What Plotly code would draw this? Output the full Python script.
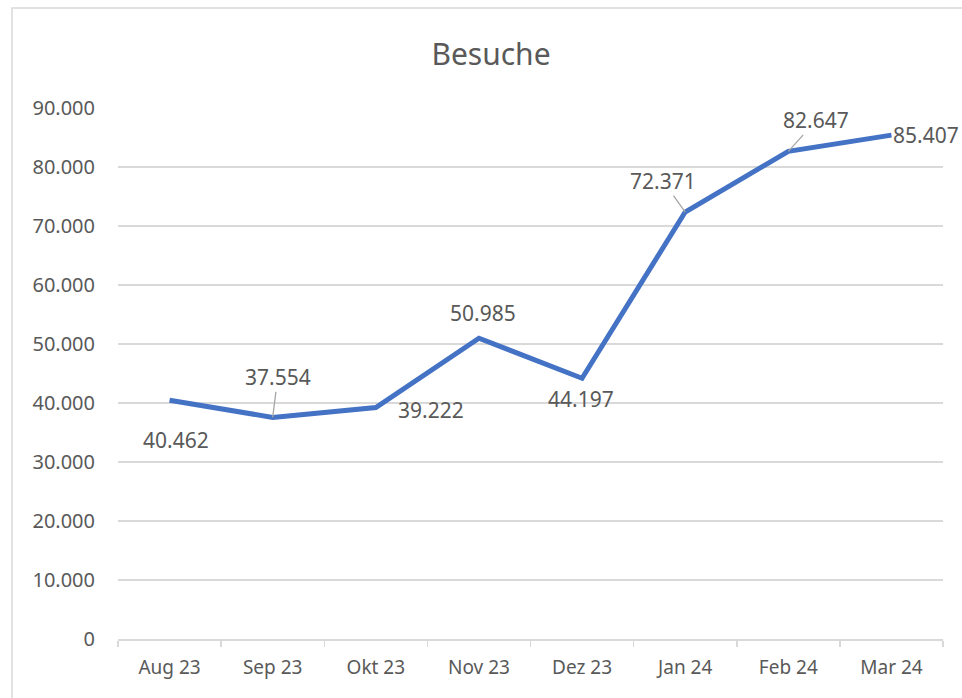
import plotly.graph_objects as go

months = ["Aug 23", "Sep 23", "Okt 23", "Nov 23", "Dez 23", "Jan 24", "Feb 24", "Mar 24"]
visits = [40462, 37554, 39222, 50985, 44197, 72371, 82647, 85407]
label_texts = ["40.462", "37.554", "39.222", "50.985", "44.197", "72.371", "82.647", "85.407"]
y_ticks = [0, 10000, 20000, 30000, 40000, 50000, 60000, 70000, 80000, 90000]
y_tick_labels = ["0", "10.000", "20.000", "30.000", "40.000", "50.000", "60.000", "70.000", "80.000", "90.000"]

# label placement: (dx px, dy px (down positive), leader line?)
placements = [(6, 40, False), (5, -40, True), (55, 2, False), (4, -25, False),
              (-1, 21, False), (-22, -31, True), (28, -31, True), (35, 0, False)]

FONT = "Noto Sans"
GRAY = "#595959"
W, H = 962, 698

fig = go.Figure()
fig.add_trace(go.Scatter(
    x=months, y=visits, mode="lines",
    line=dict(color="#4472C4", width=5),
    hoverinfo="skip", showlegend=False,
))

annotations = []
for m, v, t, (dx, dy, leader) in zip(months, visits, label_texts, placements):
    if leader:
        annotations.append(dict(
            x=m, y=v, xref="x", yref="y", text=t, showarrow=True,
            ax=dx, ay=dy, axref="pixel", ayref="pixel",
            arrowhead=0, arrowwidth=1.3, arrowcolor="#A6A6A6", standoff=0,
            borderpad=0,
            font=dict(family=FONT, size=21, color=GRAY),
        ))
    else:
        annotations.append(dict(
            x=m, y=v, xref="x", yref="y", text=t, showarrow=False,
            xshift=dx, yshift=-dy,
            font=dict(family=FONT, size=21, color=GRAY),
        ))

plot_l, plot_r, plot_t, plot_b = 118, 943, 108, 639
fig.update_layout(
    width=W, height=H,
    margin=dict(l=plot_l, r=W - plot_r, t=plot_t, b=H - plot_b),
    paper_bgcolor="white", plot_bgcolor="white",
    title=dict(text="Besuche", x=491 / W, xanchor="center", y=1 - 54 / H, yanchor="middle",
               font=dict(family=FONT, size=30, color=GRAY)),
    xaxis=dict(
        type="category", tickson="boundaries", ticks="outside", ticklen=6,
        tickcolor="#D9D9D9", tickwidth=1.5,
        showline=True, linecolor="#D9D9D9", linewidth=1.5,
        showgrid=False, zeroline=False, ticklabelstandoff=11,
        tickfont=dict(family=FONT, size=19, color=GRAY),
        range=[-0.5, len(months) - 0.5], fixedrange=True,
    ),
    yaxis=dict(
        range=[0, 90000], tickvals=y_ticks, ticktext=y_tick_labels,
        showgrid=True, gridcolor="#D9D9D9", gridwidth=1.5,
        zeroline=False, showline=False, ticks="", ticklabelstandoff=22,
        tickfont=dict(family=FONT, size=20, color=GRAY), fixedrange=True,
    ),
    annotations=annotations,
    shapes=[dict(type="rect", xref="paper", yref="paper",
                 x0=(12 - plot_l) / (plot_r - plot_l), x1=1.2, y0=-0.3,
                 y1=(plot_b - 8) / (plot_b - plot_t),
                 line=dict(color="#D9D9D9", width=1.5), layer="below")],
    hovermode=False,
)

fig.write_html(
    "out.html",
    config={"displayModeBar": False, "staticPlot": True},
    post_script="document.body.style.margin='0';document.body.style.overflow='hidden';",
)
